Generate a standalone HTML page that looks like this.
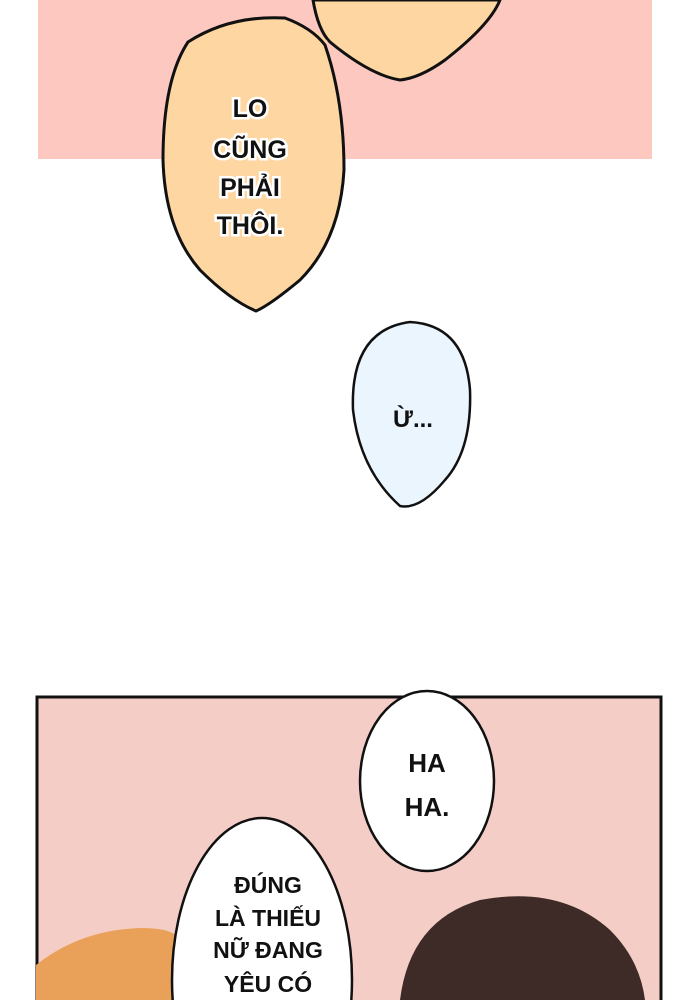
<!DOCTYPE html>
<html><head><meta charset="utf-8"><style>
html,body{margin:0;padding:0;background:#fff;width:690px;height:1000px;overflow:hidden}
svg{display:block}
text{font-family:"Liberation Sans",sans-serif;font-weight:bold;fill:#111;text-anchor:middle}
</style></head><body>
<svg width="690" height="1000" viewBox="0 0 690 1000">
<rect x="38" y="0" width="614" height="159" fill="#fdc8c0"/>
<path d="M313,0 Q318,30 330,42 Q370,75 400,80 Q420,78 445,60 Q490,25 500,0 Z" fill="#fdd6a2" stroke="#111" stroke-width="3"/>
<line x1="312" y1="33" x2="325" y2="44" stroke="#fdd6a2" stroke-width="8"/>
<path d="M188,42 Q230,15 285,18 Q312,28 325,45 Q344,100 344,170 Q340,240 300,280 Q270,305 256,311 Q230,300 200,270 Q165,230 163,160 Q163,80 188,42 Z" fill="#fdd6a2" stroke="#111" stroke-width="3"/>
<g font-size="25" stroke="#fff" stroke-width="5" paint-order="stroke">
<text x="250" y="117">LO</text>
<text x="250" y="158">CŨNG</text>
<text x="250" y="196">PHẢI</text>
<text x="250" y="234">THÔI.</text>
</g>
<path d="M410,322 Q465,325 470,390 Q472,450 445,480 Q420,510 400,506 Q360,470 353,410 Q350,330 410,322 Z" fill="#eaf5fd" stroke="#111" stroke-width="2.5"/>
<text x="413" y="427" font-size="24">Ừ...</text>
<rect x="37" y="697" width="624" height="306" fill="#f5cdc7" stroke="#111" stroke-width="3"/>
<path d="M36,965 Q80,930 140,928 Q168,928 175,935 L175,1000 L36,1000 Z" fill="#e9a159"/>
<path d="M400,1000 Q410,920 480,900 Q560,885 610,930 Q640,960 645,1000 Z" fill="#3e2b27"/>
<ellipse cx="427" cy="781" rx="67" ry="90" fill="#fff" stroke="#111" stroke-width="2.5"/>
<text x="427" y="772" font-size="26">HA</text>
<text x="427" y="816" font-size="26">HA.</text>
<ellipse cx="262" cy="980" rx="90" ry="162" fill="#fff" stroke="#111" stroke-width="2.5"/>
<g font-size="23">
<text x="268" y="893">ĐÚNG</text>
<text x="268" y="926">LÀ THIẾU</text>
<text x="268" y="958">NỮ ĐANG</text>
<text x="268" y="992">YÊU CÓ</text>
</g>
</svg>
</body></html>
